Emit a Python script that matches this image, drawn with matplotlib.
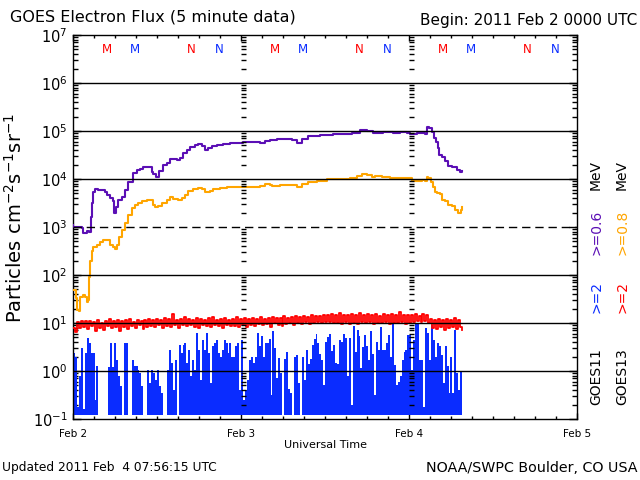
import numpy as np
import matplotlib.pyplot as plt
import matplotlib.transforms as mtransforms
from matplotlib.ticker import FixedLocator, LogLocator, NullFormatter

# hours since 2011 Feb 2 0000 UTC
g11_e06_hours = [0.0, 0.05, 0.52, 1.24, 1.48, 1.95, 2.33, 2.52, 2.71, 2.90, 3.14, 3.62, 4.09, 4.57,
                 4.90, 5.29, 5.67, 5.90, 6.14, 6.48, 6.95, 7.43, 7.90, 8.62, 9.10, 9.57, 10.05, 11.00,
                 11.24, 11.48, 11.86, 12.05, 12.33, 12.90, 13.38, 13.86, 14.33, 14.81, 15.29, 15.76,
                 16.24, 16.71, 17.43, 17.90, 18.38, 18.86, 19.33, 19.81, 20.52, 21.48, 22.43, 23.38,
                 24.33, 25.29, 26.00, 26.71, 27.43, 28.14,
                 29.10, 30.52, 31.24, 31.95, 32.67, 33.62, 35.29, 37.19, 38.86, 39.81, 41.00, 41.95,
                 42.90, 44.33, 45.76, 46.71, 47.67, 48.14, 49.10, 49.57, 50.29, 50.52, 50.90, 51.24,
                 51.57, 51.86, 52.10, 52.29, 52.67, 53.14, 53.62, 54.10, 54.81, 55.29, 55.52]
g11_e06_flux = [1.1e3, 1.0e3, 1.0e3, 9.5e2, 7.4e2, 8.1e2, 7.7e2, 1.64e3, 3.1e3, 5.4e3, 6.2e3, 5.9e3,
                5.9e3, 5.4e3, 4.6e3, 4.0e3, 3.4e3, 1.93e3, 2.6e3, 3.6e3, 4.2e3, 5.9e3, 8.8e3, 1.31e4,
                1.54e4, 1.6e4, 1.8e4, 1.8e4, 1.4e4, 1.27e4, 1.12e4, 1.12e4, 1.5e4, 1.96e4, 2.2e4,
                2.57e4, 2.57e4, 2.5e4, 2.8e4, 3.4e4, 4.0e4, 4.57e4, 5.1e4, 5.4e4, 4.9e4, 4.0e4, 4.4e4,
                4.9e4, 5.1e4, 5.3e4, 5.5e4, 5.7e4, 5.8e4, 6.0e4, 6.0e4, 5.7e4, 6.3e4, 6.5e4,
                6.9e4, 6.9e4, 6.5e4, 5.7e4, 6.7e4, 7.9e4, 8.4e4, 8.5e4, 8.7e4, 9.2e4, 1.05e5, 1.0e5,
                9.2e4, 9.5e4, 8.9e4, 9.5e4, 9.2e4, 8.7e4, 8.9e4, 9.2e4, 8.7e4, 1.19e5, 1.14e5, 9.7e4,
                7.0e4, 6.0e4, 4.4e4, 3.2e4, 2.9e4, 2.4e4, 1.87e4, 1.75e4, 1.55e4, 1.42e4, 1.5e4]

g13_e08_hours = [0.0, 0.43, 0.62, 0.81, 1.00, 1.48, 1.71, 1.95, 2.19, 2.33, 2.43, 2.67, 2.90, 3.38,
                 3.86, 4.33, 4.90, 5.29, 5.76, 6.00, 6.24, 6.62, 6.95, 7.43, 7.90, 8.38, 8.86, 9.33,
                 9.81, 10.52, 11.00, 11.38, 11.71, 12.19, 12.67, 13.38, 13.86, 14.33, 15.05, 15.52,
                 16.00, 16.48, 17.19, 17.90, 18.38, 18.86, 19.57, 20.05, 21.00, 21.95, 23.38, 24.81,
                 25.76, 26.71, 27.43, 28.14,
                 28.38, 29.57, 31.24, 31.95, 32.67, 33.62, 34.81, 36.24, 38.14, 39.57, 40.52, 41.24,
                 41.95, 42.67, 43.14, 44.10, 45.29, 46.71, 47.67, 48.38, 49.10, 49.81, 50.29, 50.52,
                 50.76, 51.10, 51.48, 51.71, 52.05, 52.43, 52.67, 53.14, 53.62, 54.10, 54.57, 55.05,
                 55.43, 55.62]
g13_e08_flux = [48, 33, 18.6, 17.5, 35, 38, 35, 28, 30, 92, 200, 310, 390, 420, 490, 540, 540, 420,
                390, 340, 420, 630, 870, 1190, 1780, 2450, 2900, 3100, 3400, 3650, 3650, 2900, 2600,
                2750, 3100, 3650, 4200, 3800, 3650, 4000, 4600, 5600, 6100, 6400, 6100, 5400, 5700,
                6100, 6400, 6700, 6900, 6900, 6900, 7100, 7800, 7500,
                7200, 7500, 7500, 6900, 7800, 8800, 9200, 9800, 10000, 10700, 11600, 12700, 12000,
                11200, 11600, 11200, 10300, 10300, 10300, 9200, 9200, 9500, 9200, 11200, 10300, 8800,
                6700, 5400, 5200, 4900, 3600, 3400, 2900, 2700, 2260, 2000, 2260, 2600]

# >=2 MeV, read every ~2 px of the plot
g11_e2_flux = [2.4, 2.0, 0.18, 0.77, 3.0, 0.16, 2.4, 4.8, 3.8, 2.4, 2.4, 0.25, 1.3, 0.12, 0.12,
               0.12, 0.12, 0.12, 1.2, 3.8, 1.2, 3.8, 1.7, 0.77, 0.48, 0.12, 3.8, 3.8, 0.12, 0.12,
               1.7, 1.25, 1.25, 1.07, 0.91, 0.48, 0.12, 0.12, 1.07, 0.56, 1.07, 0.91, 0.66, 1.07,
               0.48, 0.35, 0.12, 0.12, 1.07, 2.8, 1.5, 0.41, 1.7, 0.12, 3.5, 2.4, 3.5, 3.8, 1.5, 2.8,
               0.77, 1.7, 1.07, 6.2, 2.8, 0.66, 4.5, 2.8, 6.2, 2.4, 0.56, 3.3, 3.8, 4.5, 2.4, 2.0,
               2.8, 4.5, 3.8, 2.4, 3.8, 2.0, 2.0, 3.3, 3.8, 0.41, 4.5, 0.25, 0.41, 0.66, 1.7, 2.0,
               1.5, 2.0, 6.2, 3.3, 5.3, 2.0, 3.8, 3.8,
               4.6, 0.31, 6.9, 3.0, 0.72, 1.85, 0.91, 0.12, 1.75, 2.5, 0.42, 0.35, 0.12, 2.0, 2.2,
               0.56, 0.12, 2.0, 0.66, 2.7, 1.43, 1.75, 3.4, 4.7, 6.0, 3.8, 2.3, 1.7, 0.5, 4.1, 5.1,
               6.0, 2.6, 3.5, 1.5, 1.43, 4.5, 4.0, 6.0, 4.9, 0.8, 4.9, 0.2, 8.5, 2.5, 7.3, 5.4, 1.17,
               3.2, 5.7, 3.3, 1.7, 6.8, 2.3, 0.31, 4.1, 2.8, 8.2, 2.8, 2.8, 3.8, 5.7, 2.0, 10, 1.36,
               0.5, 0.58, 0.8, 1.7, 2.5, 2.8, 5.7, 5.7, 1.07, 4.5, 10, 10, 1.7, 1.7, 0.18, 7.9, 6.2,
               1.7, 9.2, 4.5, 2.0, 3.8, 3.3, 2.2, 0.56, 3.3, 1.25, 0.35, 2.0, 0.35, 7.3, 0.91, 0.41,
               1.0, 0.66]
g13_e2_flux = [8.0, 6.5, 10.5, 7.8, 11.0, 8.2, 10.8, 7.5, 11.2, 8.8, 10.6, 6.8, 11.4, 8.0, 10.2,
               7.2, 11.0, 8.6, 12.0, 7.9, 10.8, 8.4, 11.5, 6.9, 10.9, 8.1, 11.3, 7.6, 12.1, 8.5,
               10.7, 7.8, 11.6, 8.9, 11.0, 7.4, 11.8, 8.3, 12.4, 8.7,
               11.5, 8.2, 12.2, 9.0, 11.3, 7.9, 12.6, 8.8, 11.9, 8.4, 15.5, 9.1, 11.7, 8.0, 12.3,
               8.9, 13.4, 8.6, 12.0, 9.2, 11.6, 8.3, 12.8, 7.7, 12.1, 9.0, 11.4, 8.5, 12.5, 8.1,
               13.1, 9.3, 11.8, 8.7, 12.4, 8.0, 12.9, 9.0, 11.5, 8.6, 12.2, 8.8, 13.3, 8.2, 12.0,
               9.1, 12.6, 8.4, 11.9, 8.9,
               12.7, 8.6, 12.1, 9.4, 13.2, 8.9, 12.4, 9.6, 12.9, 8.3, 13.5, 9.8, 12.6, 9.1, 13.0,
               8.8, 13.8, 9.5, 12.8, 9.9, 13.4, 9.2, 14.0, 10.1, 13.1, 9.6, 14.3, 10.4, 13.6, 9.7,
               14.6, 10.0, 13.9, 10.5, 14.2, 9.8, 15.0, 10.3, 14.4, 10.6,
               15.3, 9.8, 14.7, 10.2, 16.2, 9.5, 15.0, 10.4, 14.5, 9.7, 15.6, 10.1, 14.9, 9.4, 15.8,
               10.6, 14.6, 9.9, 15.2, 10.3, 14.8, 9.6, 15.5, 10.0, 14.3, 9.8, 15.1, 10.5, 14.7, 9.5,
               15.4, 10.2, 14.9, 9.9, 17.0, 10.4, 14.4, 9.7, 15.0, 10.1,
               14.8, 10.6, 15.3, 11.1, 14.2, 10.3, 15.6, 10.8, 14.5, 10.1,
               12.4, 8.0, 11.8, 7.5, 12.0, 8.3, 11.5, 7.1, 12.2, 7.8, 11.6, 8.4, 12.5, 7.6, 11.3,
               8.1, 7.2]
e2_start, e2_end = 0.0, 55.6
e2_floor = 0.12

m13_hours = [4.8, 28.8, 52.9]
m11_hours = [8.8, 32.8, 56.85]
n13_hours = [16.85, 40.9, 64.9]
n11_hours = [20.85, 44.9, 68.9]

day_ticks = [0, 24, 48, 72]
day_labels = ["Feb 2", "Feb 3", "Feb 4", "Feb 5"]

purple = "#5b0fb5"
orange = "#ffa500"
red = "#ff0000"
blue = "#0a2cff"

fig = plt.figure(figsize=(6.4, 4.8), dpi=100)
ax = fig.add_axes([73 / 640, 61 / 480, 504 / 640, 384 / 480])
ax.set_yscale("log")
ax.set_xlim(0, 72)
ax.set_ylim(0.1, 1e7)

blue_hours = np.linspace(e2_start, e2_end, len(g11_e2_flux))
red_hours = np.linspace(e2_start, e2_end, len(g13_e2_flux))
ax.fill_between(blue_hours, e2_floor, g11_e2_flux, step="post", color=blue, lw=0, zorder=2)
ax.plot(red_hours, g13_e2_flux, color=red, lw=1.3, drawstyle="steps-post", zorder=3)
ax.plot(g13_e08_hours, g13_e08_flux, color=orange, lw=1.5, drawstyle="steps-post", zorder=3)
ax.plot(g11_e06_hours, g11_e06_flux, color=purple, lw=1.5, drawstyle="steps-post", zorder=3)

for v in [1e0, 1e1, 1e2, 1e4, 1e5, 1e6]:
    ax.axhline(v, color="k", lw=1.0, zorder=5)
ax.axhline(1e3, color="k", lw=1.0, ls=(0, (6, 3.5)), zorder=5)

# little log ticks at the day boundaries
for d in day_ticks[1:3]:
    for n in range(-1, 7):
        for m in range(2, 10):
            ax.hlines(m * 10.0 ** n, d, d + 0.7, color="k", lw=1.0, zorder=5)

trans = mtransforms.blended_transform_factory(ax.transData, ax.transAxes)
for hours, letter, col in [(m13_hours, "M", red), (m11_hours, "M", blue),
                           (n13_hours, "N", red), (n11_hours, "N", blue)]:
    for h in hours:
        ax.text(h, 0.963, letter, color=col, fontsize=8.5, ha="center", va="center",
                transform=trans)

ax.xaxis.set_major_locator(FixedLocator(day_ticks))
ax.xaxis.set_minor_locator(FixedLocator(np.arange(0, 73, 3)))
ax.set_xticklabels(day_labels)
ax.tick_params(axis="x", which="major", direction="in", top=True, length=4, width=1,
               labelsize=7.5, pad=7)
ax.tick_params(axis="x", which="minor", direction="in", top=True, length=2.5, width=1)
ax.yaxis.set_major_locator(LogLocator(base=10, numticks=20))
ax.yaxis.set_minor_locator(LogLocator(base=10, subs=np.arange(2, 10), numticks=20))
ax.yaxis.set_minor_formatter(NullFormatter())
ax.tick_params(axis="y", which="major", direction="in", right=True, length=6, width=1,
               labelsize=10.5, pad=4)
ax.tick_params(axis="y", which="minor", direction="in", right=True, length=3.5, width=1)
for s in ax.spines.values():
    s.set_linewidth(1.0)

ax.set_xlabel("Universal Time", fontsize=8, labelpad=1)
fig.text(15 / 640, 1 - 218 / 480, "Particles cm$^{-2}$s$^{-1}$sr$^{-1}$", fontsize=14,
         rotation=90, ha="center", va="center")

fig.text(10 / 640, 1 - 17 / 480, "GOES Electron Flux (5 minute data)", fontsize=11.5,
         ha="left", va="center")
fig.text(637 / 640, 1 - 20 / 480, "Begin: 2011 Feb 2 0000 UTC", fontsize=11,
         ha="right", va="center")
fig.text(2 / 640, 1 - 468 / 480, "Updated 2011 Feb  4 07:56:15 UTC", fontsize=8.8,
         ha="left", va="center")
fig.text(638 / 640, 1 - 468 / 480, "NOAA/SWPC Boulder, CO USA", fontsize=10.3,
         ha="right", va="center")

legend_rows = [
    (596, [("GOES11", "k", 377), (">=2", blue, 297), (">=0.6", purple, 232), ("MeV", "k", 175)]),
    (622, [("GOES13", "k", 377), (">=2", red, 297), (">=0.8", orange, 232), ("MeV", "k", 175)]),
]
for xpix, parts in legend_rows:
    for txt, col, ypix in parts:
        fig.text(xpix / 640, 1 - ypix / 480, txt, color=col, fontsize=10, rotation=90,
                 ha="center", va="center")

fig.savefig("out.png", dpi=100)
